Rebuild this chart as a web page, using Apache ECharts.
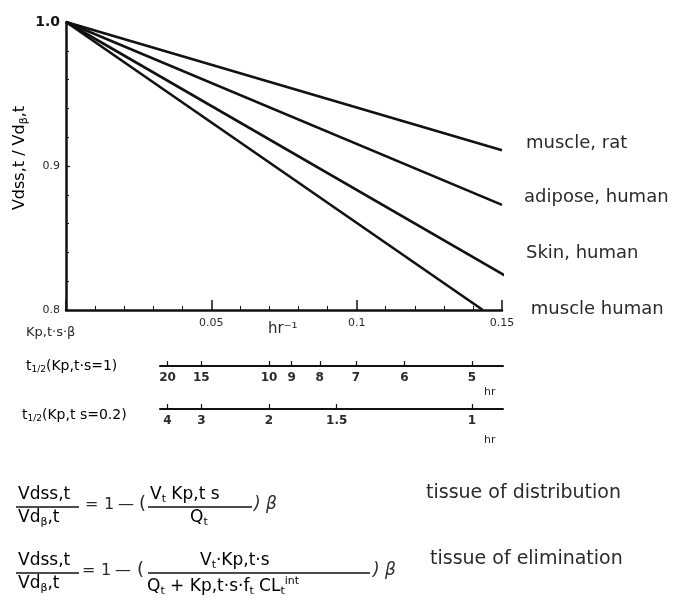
<!DOCTYPE html>
<html>
<head>
<meta charset="utf-8">
<script src="https://cdn.jsdelivr.net/npm/echarts@6/dist/echarts.min.js"></script>
<style>
html,body{margin:0;padding:0;background:#fff;}
#c{width:682px;height:616px;}
</style>
</head>
<body>
<div id="c"></div>
<script>
// ---- data ----
const tissues = ['muscle, rat', 'adipose, human', 'Skin, human', 'muscle human'];
const startX = [0, 0, 0, 0];
const startY = [1.0, 1.0, 1.0, 1.0];
const endX = [0.15, 0.15, 0.151, 0.1434];
const endY = [0.911, 0.873, 0.824, 0.80];
const xTickLabels = ['0.05', '0.1', '0.15'];
const yTickLabels = ['0.8', '0.9', '1.0'];
const halfLivesKs1 = [20, 15, 10, 9, 8, 7, 6, 5];       // t1/2 (Kp,t·s = 1), hr
const halfLivesKs02 = [4, 3, 2, 1.5, 1];               // t1/2 (Kp,t·s = 0.2), hr
const halfLifeConst = 0.70;                           // k·t1/2
const ks1 = 1, ks02 = 0.2;

const FONT = '"DejaVu Sans", "Noto Sans", sans-serif';
const INK = '#111';
const TXT = '#2a2a2a';

const kOf = (t, ks) => halfLifeConst * ks / t;
const ks1Vals = halfLivesKs1.map(t => kOf(t, ks1));
const ks02Vals = halfLivesKs02.map(t => kOf(t, ks02));

const labelOffsets = [[6, -7], [4, -8], [4, -22], [30, -1]];

const series = tissues.map((name, i) => ({
  name: name,
  type: 'line',
  xAxisIndex: 0, yAxisIndex: 0,
  data: [[startX[i], startY[i]], [endX[i], endY[i]]],
  symbol: 'none',
  lineStyle: { color: INK, width: 2.6 },
  endLabel: {
    show: true,
    formatter: name,
    color: TXT,
    fontFamily: FONT,
    fontSize: 18,
    distance: 18,
    offset: labelOffsets[i]
  },
  silent: true,
  animation: false
}));

const chart = echarts.init(document.getElementById('c'), null, { renderer: 'canvas' });

function secAxis(gridIndex, vals, labels) {
  return {
    type: 'value', gridIndex: gridIndex, position: 'bottom',
    min: 0.0324, max: 0.1507,
    axisLine: { show: true, lineStyle: { color: INK, width: 2 } },
    axisTick: { show: true, inside: true, length: 5, customValues: vals, lineStyle: { color: INK, width: 1.2 } },
    axisLabel: {
      show: true, customValues: vals, margin: 6,
      color: TXT, fontFamily: FONT, fontSize: 12, fontWeight: 'bold',
      formatter: function (v) {
        let best = 0, bd = 1e9;
        vals.forEach((x, j) => { const d = Math.abs(x - v); if (d < bd) { bd = d; best = j; } });
        return String(labels[best]);
      }
    },
    splitLine: { show: false }
  };
}

const sub = { fontSize: 11, fontFamily: FONT, color: TXT, padding: [9, 0, 0, 0] };
const base = { fontSize: 17, fontFamily: FONT, color: TXT };
const sup = { fontSize: 11, fontFamily: FONT, color: TXT, padding: [0, 0, 10, 0] };
const eqFont = '16px ' + FONT;

function opPieces(x0, y, parenX) {
  return [
    { type: 'text', left: x0, top: y, style: { text: '=', font: eqFont, fill: TXT } },
    { type: 'text', left: x0 + 19, top: y, style: { text: '1', font: eqFont, fill: TXT } },
    { type: 'text', left: x0 + 33, top: y, style: { text: '—', font: eqFont, fill: TXT } },
    { type: 'text', left: parenX, top: y - 2, style: { text: '(', font: '18px ' + FONT, fill: TXT } }
  ];
}

const option = {
  backgroundColor: '#fff',
  animation: false,
  grid: [
    { left: 66, right: 180, top: 22, height: 288 },
    { left: 160, right: 179, top: 356, height: 10 },
    { left: 160, right: 179, top: 399, height: 10 }
  ],
  xAxis: [
    {
      type: 'value', gridIndex: 0, min: 0, max: 0.15, interval: 0.05,
      axisLine: { show: true, lineStyle: { color: INK, width: 2.5 } },
      axisTick: { show: true, inside: true, length: 10, lineStyle: { color: INK, width: 1.5 } },
      minorTick: { show: true, splitNumber: 5, length: 4, lineStyle: { color: INK, width: 1 } },
      axisLabel: {
        color: TXT, fontFamily: FONT, fontSize: 11, margin: 8,
        formatter: v => { const i = Math.round(v / 0.05) - 1; return i >= 0 ? xTickLabels[i] : ''; }
      },
      splitLine: { show: false }
    },
    secAxis(1, ks1Vals, halfLivesKs1),
    secAxis(2, ks02Vals, halfLivesKs02)
  ],
  yAxis: [
    {
      type: 'value', gridIndex: 0, min: 0.8, max: 1.0, interval: 0.1,
      axisLine: { show: true, lineStyle: { color: INK, width: 2.5 } },
      axisTick: { show: true, inside: true, length: 4, lineStyle: { color: INK, width: 1.2 } },
      minorTick: { show: true, splitNumber: 5, length: 3, lineStyle: { color: INK, width: 1 } },
      axisLabel: {
        color: TXT, fontFamily: FONT, fontSize: 11, margin: 6,
        formatter: v => { const i = Math.round((v - 0.8) / 0.1); return i === 2 ? '{big|' + yTickLabels[i] + '}' : (yTickLabels[i] || ''); },
        rich: { big: { fontSize: 14, fontWeight: 'bold', fontFamily: FONT, color: '#111' } }
      },
      splitLine: { show: false }
    },
    { type: 'value', gridIndex: 1, show: false, min: 0, max: 1 },
    { type: 'value', gridIndex: 2, show: false, min: 0, max: 1 }
  ],
  series: series,
  graphic: [
    // y-axis name
    { type: 'text', x: 20, y: 158, rotation: Math.PI / 2, style: {
      rich: { b: { fontSize: 16, fontFamily: FONT, color: TXT }, s: { fontSize: 11, fontFamily: FONT, color: TXT, padding: [8, 0, 0, 0] } },
      text: '{b|Vdss,t / Vd}{s|β}{b|,t}', align: 'center', verticalAlign: 'middle' } },
    // x-axis captions
    { type: 'text', left: 26, top: 326, style: { text: 'Kp,t·s·β', font: '13px ' + FONT, fill: TXT } },
    { type: 'text', left: 268, top: 322, style: { text: 'hr⁻¹', font: '15px ' + FONT, fill: TXT } },
    { type: 'text', left: 26, top: 359, style: {
      rich: { b: { fontSize: 14, fontFamily: FONT, color: TXT }, s: { fontSize: 9, fontFamily: FONT, color: TXT, padding: [7, 0, 0, 0] } },
      text: '{b|t}{s|1/2}{b|(Kp,t·s=1)}' } },
    { type: 'text', left: 22, top: 408, style: {
      rich: { b: { fontSize: 14, fontFamily: FONT, color: TXT }, s: { fontSize: 9, fontFamily: FONT, color: TXT, padding: [7, 0, 0, 0] } },
      text: '{b|t}{s|1/2}{b|(Kp,t s=0.2)}' } },
    { type: 'text', left: 484, top: 387, style: { text: 'hr', font: '11px ' + FONT, fill: TXT } },
    { type: 'text', left: 484, top: 435, style: { text: 'hr', font: '11px ' + FONT, fill: TXT } },

    // equation 1
    { type: 'text', left: 18, top: 486, style: { rich: { b: base }, text: '{b|Vdss,t}' } },
    { type: 'line', shape: { x1: 16, y1: 507, x2: 79, y2: 507 }, style: { stroke: INK, lineWidth: 1.5 } },
    { type: 'text', left: 18, top: 509, style: { rich: { b: base, s: sub }, text: '{b|Vd}{s|β}{b|,t}' } },
    ...opPieces(85, 497, 139),
    { type: 'text', left: 150, top: 486, style: { rich: { b: base, s: sub }, text: '{b|V}{s|t}{b| Kp,t s}' } },
    { type: 'line', shape: { x1: 148, y1: 507, x2: 252, y2: 507 }, style: { stroke: INK, lineWidth: 1.5 } },
    { type: 'text', left: 190, top: 509, style: { rich: { b: base, s: sub }, text: '{b|Q}{s|t}' } },
    { type: 'text', left: 254, top: 496, style: { text: ') β', font: 'italic 17px ' + FONT, fill: TXT } },
    { type: 'text', left: 426, top: 484, style: { text: 'tissue of distribution', font: '19px ' + FONT, fill: TXT } },

    // equation 2
    { type: 'text', left: 18, top: 552, style: { rich: { b: base }, text: '{b|Vdss,t}' } },
    { type: 'line', shape: { x1: 16, y1: 573, x2: 79, y2: 573 }, style: { stroke: INK, lineWidth: 1.5 } },
    { type: 'text', left: 18, top: 575, style: { rich: { b: base, s: sub }, text: '{b|Vd}{s|β}{b|,t}' } },
    ...opPieces(82, 563, 137),
    { type: 'text', left: 200, top: 552, style: { rich: { b: base, s: sub }, text: '{b|V}{s|t}{b|·Kp,t·s}' } },
    { type: 'line', shape: { x1: 148, y1: 573, x2: 370, y2: 573 }, style: { stroke: INK, lineWidth: 1.5 } },
    { type: 'text', left: 147, top: 576, style: { rich: { b: base, s: sub, p: sup },
      text: '{b|Q}{s|t}{b| + Kp,t·s·f}{s|t}{b| CL}{s|t}{p|int}' } },
    { type: 'text', left: 373, top: 562, style: { text: ') β', font: 'italic 17px ' + FONT, fill: TXT } },
    { type: 'text', left: 430, top: 550, style: { text: 'tissue of elimination', font: '19px ' + FONT, fill: TXT } }
  ]
};

chart.setOption(option);
</script>
</body>
</html>
